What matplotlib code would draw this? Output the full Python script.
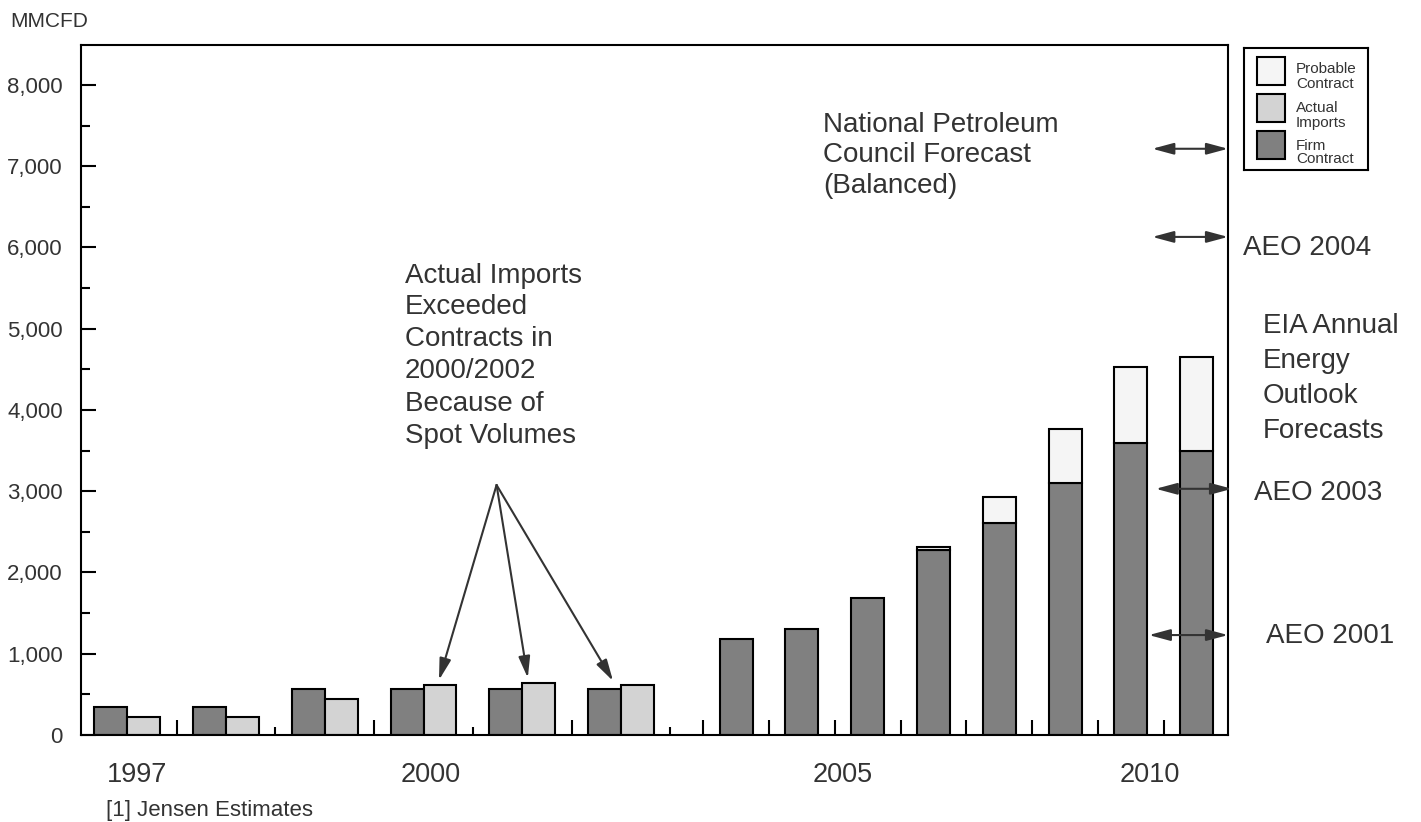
import matplotlib
matplotlib.use('Agg')
import matplotlib.pyplot as plt
from matplotlib.patches import Rectangle
from matplotlib.ticker import MultipleLocator, FuncFormatter, FixedLocator

plt.rcParams['font.family'] = ['Liberation Sans', 'DejaVu Sans']

# ---------------- data ----------------
early_years = [1997, 1998, 1999, 2000, 2001, 2002]
early_firm = [350, 350, 570, 570, 570, 570]
early_actual = [220, 220, 445, 620, 645, 620]

late_years = [2003, 2004, 2005, 2006, 2007, 2008, 2009, 2010]
late_firm = [1185, 1310, 1680, 2275, 2615, 3100, 3595, 3500]
late_probable = [0, 0, 0, 40, 320, 665, 935, 1155]

year_labels = ['1997', '2000', '2005', '2010']

forecast_names = ['NPC', 'AEO 2004', 'AEO 2003', 'AEO 2001']
forecast_values = [7215, 6130, 3030, 1230]

legend_labels = [('Probable', 'Contract'), ('Actual', 'Imports'), ('Firm', 'Contract')]

FIRM_C = '#808080'
ACTUAL_C = '#d3d3d3'
PROB_C = '#f5f5f5'
TXT_C = '#333333'
ARR_C = '#333333'

# ---------------- layout ----------------
W, H = 1421, 822
fig = plt.figure(figsize=(W / 100, H / 100), dpi=100)
ax = fig.add_axes([81 / W, 1 - 735 / H, (1228 - 81) / W, (735 - 45) / H])

# slot positions (each year group occupies slots on a category axis)
early_dark_x = [3 * i for i in range(len(early_years))]
early_light_x = [3 * i + 1 for i in range(len(early_years))]
late_x = [19 + 2 * i for i in range(len(late_years))]

bw = 1.0
ekw = dict(edgecolor='black', linewidth=1.5, zorder=2)
ax.bar(early_dark_x, early_firm, width=bw, color=FIRM_C, **ekw)
ax.bar(early_light_x, early_actual, width=bw, color=ACTUAL_C, **ekw)
ax.bar(late_x, late_firm, width=bw, color=FIRM_C, **ekw)
prob_x = [x for x, p in zip(late_x, late_probable) if p > 0]
prob_v = [p for p in late_probable if p > 0]
prob_b = [f for f, p in zip(late_firm, late_probable) if p > 0]
ax.bar(prob_x, prob_v, bottom=prob_b, width=bw, color=PROB_C, **ekw)

ax.set_xlim(-0.91, 33.95)
ax.set_ylim(0, 8492)

for s in ax.spines.values():
    s.set_linewidth(1.5)
    s.set_color('black')

# y ticks
ax.yaxis.set_major_locator(MultipleLocator(1000))
ax.yaxis.set_minor_locator(MultipleLocator(500))
ax.yaxis.set_major_formatter(FuncFormatter(lambda v, p: f'{int(v):,}'))
ax.tick_params(axis='y', which='major', direction='in', length=10.8, width=1.5,
               pad=13, labelsize=16, labelcolor=TXT_C, right=False)
ax.tick_params(axis='y', which='minor', direction='in', length=6.5, width=1.5, right=False)

# x ticks: long at even slots, short at odd slots
ax.xaxis.set_major_locator(FixedLocator(list(range(0, 34, 2))))
ax.xaxis.set_minor_locator(FixedLocator(list(range(1, 34, 2))))
ax.tick_params(axis='x', which='major', direction='in', length=10.8, width=1.5,
               labelbottom=False, top=False)
ax.tick_params(axis='x', which='minor', direction='in', length=5.8, width=1.5, top=False)


def ftxt(x, y, s, **kw):
    kw.setdefault('color', TXT_C)
    kw.setdefault('va', 'baseline')
    fig.text(x / W, 1 - y / H, s, **kw)


# year labels under axis
year_label_px = [137, 431, 843, 1150]
for lab, xp in zip(year_labels, year_label_px):
    ftxt(xp, 782, lab, fontsize=19.5, ha='center')

ftxt(106, 816, '[1] Jensen Estimates', fontsize=16)
ftxt(10, 27, 'MMCFD', fontsize=15)

# annotation blocks
npc_lines = ['National Petroleum', 'Council Forecast', '(Balanced)']
for line, yb in zip(npc_lines, [132, 162, 193]):
    ftxt(823, yb, line, fontsize=20)

spot_lines = ['Actual Imports', 'Exceeded', 'Contracts in', '2000/2002',
              'Because of', 'Spot Volumes']
for line, yb in zip(spot_lines, [283, 314, 346, 378, 411, 443]):
    ftxt(405, yb, line, fontsize=20)

eia_lines = ['EIA Annual', 'Energy', 'Outlook', 'Forecasts']
for line, yb in zip(eia_lines, [333, 368, 403, 438]):
    ftxt(1263, yb, line, fontsize=20)

ftxt(1243, 255, 'AEO 2004', fontsize=20)
ftxt(1254, 500, 'AEO 2003', fontsize=20)
ftxt(1266, 643, 'AEO 2001', fontsize=20)

# double-headed forecast arrows at right edge
arrow_x0 = [0.934, 0.934, 0.937, 0.931]
arrow_x1 = [1.0, 1.0, 1.0035, 1.0]
for v, x0, x1 in zip(forecast_values, arrow_x0, arrow_x1):
    ax.annotate('', xy=(x1, v), xytext=(x0, v), xycoords=ax.get_yaxis_transform(),
                arrowprops=dict(arrowstyle='<|-|>,head_length=1.3,head_width=0.35',
                                color=ARR_C, lw=1.5, shrinkA=0, shrinkB=0),
                annotation_clip=False, zorder=5)

# spot-volume arrows (point to bars of 2000, 2001, 2002)
origin = (11.72, 3077)
tips = [(9.97, 677), (12.67, 702), (15.26, 665)]
for t in tips:
    ax.annotate('', xy=t, xytext=origin,
                arrowprops=dict(arrowstyle='-|>,head_length=1.3,head_width=0.35',
                                color=ARR_C, lw=1.5, shrinkA=0, shrinkB=0),
                zorder=5)

# legend box
lax = fig.add_axes([1244 / W, 1 - 170 / H, 124 / W, 122 / H])
lax.set_xlim(0, 124)
lax.set_ylim(122, 0)
lax.set_xticks([])
lax.set_yticks([])
for s in lax.spines.values():
    s.set_linewidth(1.5)
leg_colors = [PROB_C, ACTUAL_C, FIRM_C]
patch_tops = [9, 46, 83]
text_baselines = [(25.3, 40.3), (63.7, 78.7), (102, 115.3)]
for c, top, (l1, l2), (b1, b2) in zip(leg_colors, patch_tops, legend_labels, text_baselines):
    lax.add_patch(Rectangle((13, top), 28, 28, facecolor=c, edgecolor='black', linewidth=1.5))
    lax.text(52, b1, l1, fontsize=11, color=TXT_C, va='baseline')
    lax.text(52, b2, l2, fontsize=11, color=TXT_C, va='baseline')

fig.savefig('out.png', dpi=100)
